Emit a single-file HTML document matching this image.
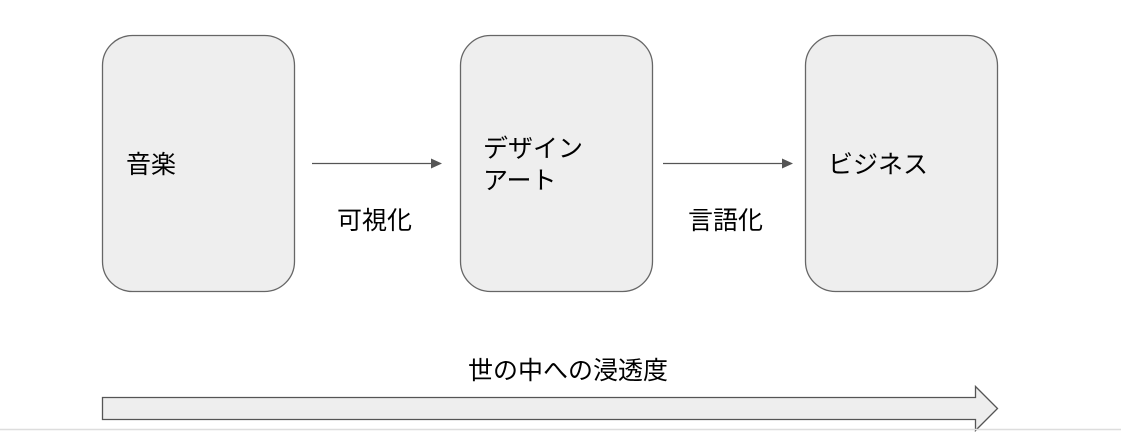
<!DOCTYPE html>
<html><head><meta charset="utf-8"><style>
body{margin:0;background:#fff;width:1121px;height:435px;overflow:hidden}
svg text{font-family:"Liberation Sans","Noto Sans CJK JP",sans-serif;fill:#000}
</style></head><body>
<svg width="1121" height="435" xmlns="http://www.w3.org/2000/svg">
<g fill="#eeeeee" stroke="#666" stroke-width="1.3">
<rect x="102.5" y="35.5" width="192" height="256" rx="30"/>
<rect x="460.5" y="35.5" width="192" height="256" rx="30"/>
<rect x="805.5" y="35.5" width="192" height="256" rx="30"/>
</g>
<g stroke="#555" stroke-width="1.3">
<line x1="312" y1="163.5" x2="432" y2="163.5"/>
<line x1="663" y1="163.5" x2="783" y2="163.5"/>
</g>
<g fill="#555">
<polygon points="431,158.5 442,163.5 431,168.5"/>
<polygon points="782,158.5 793,163.5 782,168.5"/>
</g>
<g font-size="25">
<text x="126" y="173">音楽</text>
<text x="337" y="229">可視化</text>
<text x="483" y="157">デザイン</text>
<text x="483" y="189">アート</text>
<text x="828" y="173">ビジネス</text>
<text x="688" y="229">言語化</text>
<text x="468" y="379">世の中への浸透度</text>
</g>
<polygon points="102.5,397.5 975.5,397.5 975.5,386.5 997.5,408.5 975.5,430.5 975.5,419.5 102.5,419.5" fill="#eeeeee" stroke="#555" stroke-width="1.3"/>
<line x1="0" y1="429.5" x2="1121" y2="429.5" stroke="#ddd" stroke-width="1.5"/>
</svg>
</body></html>
